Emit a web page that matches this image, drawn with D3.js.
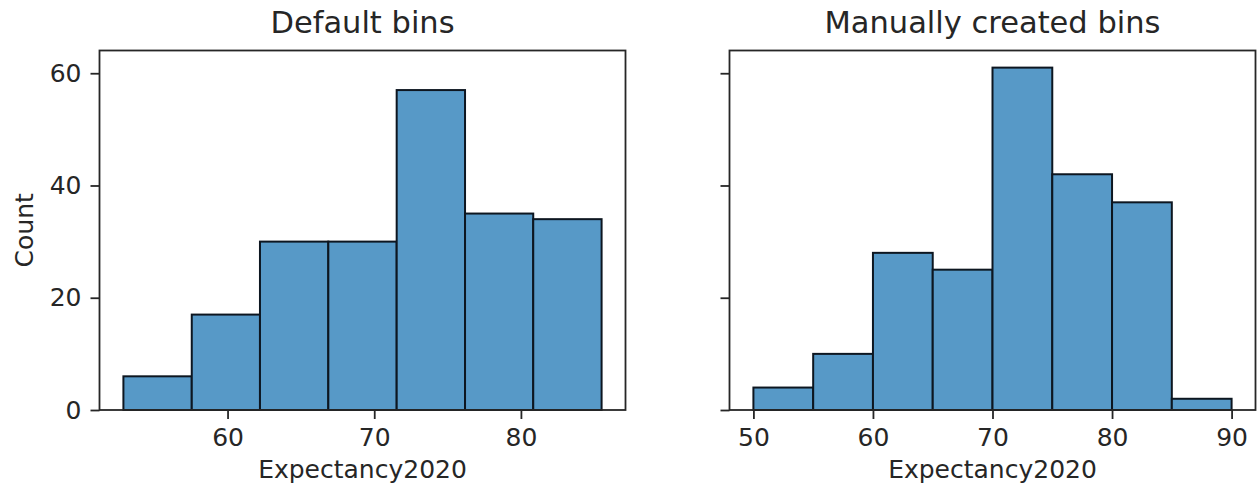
<!DOCTYPE html>
<html>
<head>
<meta charset="utf-8">
<script src="https://cdn.jsdelivr.net/npm/d3@7/dist/d3.min.js"></script>
<style>
  html, body { margin: 0; padding: 0; background: #fff; }
  svg { display: block; font-family: "DejaVu Sans", sans-serif; }
</style>
</head>
<body>
<svg id="chart" width="1257" height="490"></svg>
<script>
// Histogram of life expectancy in 2020, binned two ways.
const defaultEdges = [52.9, 57.56, 62.21, 66.87, 71.53, 76.19, 80.84, 85.5];
const defaultCounts = [6, 17, 30, 30, 57, 35, 34];
const defaultTicks = [60, 70, 80];

const manualEdges = [50, 55, 60, 65, 70, 75, 80, 85, 90];
const manualCounts = [4, 10, 28, 25, 61, 42, 37, 2];
const manualTicks = [50, 60, 70, 80, 90];

const countTicks = [0, 20, 40, 60];
const titles = ["Default bins", "Manually created bins"];
const xLabel = "Expectancy2020";
const yLabel = "Count";

const plotTop = 50.5, plotBottom = 410;
const panels = [
  { left: 99.5, right: 625.5, edges: defaultEdges, counts: defaultCounts, ticks: defaultTicks, title: titles[0], showY: true },
  { left: 729.5, right: 1255.5, edges: manualEdges, counts: manualCounts, ticks: manualTicks, title: titles[1], showY: false }
];

const svg = d3.select("#chart");
const barFill = "#5799c7";
const ink = "#262626";

// shared count axis, with 5% headroom above the tallest bar
const maxCount = d3.max(panels.flatMap(p => p.counts));
const y = d3.scaleLinear().domain([0, maxCount * 1.05]).range([plotBottom, plotTop]);

panels.forEach(p => {
  const lo = p.edges[0], hi = p.edges[p.edges.length - 1];
  const pad = (hi - lo) * 0.05;
  const x = d3.scaleLinear().domain([lo - pad, hi + pad]).range([p.left, p.right]);

  const g = svg.append("g");

  const bins = p.counts.map((c, i) => ({ x0: p.edges[i], x1: p.edges[i + 1], count: c }));
  g.selectAll("rect.bar").data(bins).join("rect")
    .attr("class", "bar")
    .attr("x", d => x(d.x0))
    .attr("width", d => x(d.x1) - x(d.x0))
    .attr("y", d => y(d.count))
    .attr("height", d => y(0) - y(d.count))
    .attr("fill", barFill)
    .attr("stroke", "#0d1620")
    .attr("stroke-width", 2);

  // frame
  g.append("rect")
    .attr("x", p.left).attr("y", plotTop)
    .attr("width", p.right - p.left).attr("height", plotBottom - plotTop)
    .attr("fill", "none").attr("stroke", ink).attr("stroke-width", 1.8);

  const xAxis = g.append("g")
    .attr("transform", `translate(0,${plotBottom})`)
    .call(d3.axisBottom(x).tickValues(p.ticks).tickSize(9).tickPadding(9).tickFormat(d3.format("d")));
  const yAxis = g.append("g")
    .attr("transform", `translate(${p.left},0)`)
    .call(d3.axisLeft(y).tickValues(countTicks).tickSize(9).tickPadding(9)
      .tickFormat(p.showY ? d3.format("d") : () => ""));

  [xAxis, yAxis].forEach(a => {
    a.select(".domain").remove();
    a.selectAll(".tick line").attr("stroke", ink).attr("stroke-width", 1.8);
    a.selectAll(".tick text").attr("fill", ink).style("font-size", "25px")
      .style("font-family", "DejaVu Sans, sans-serif");
  });

  g.append("text")
    .attr("x", (p.left + p.right) / 2).attr("y", 33)
    .attr("text-anchor", "middle").attr("fill", ink)
    .style("font-size", "30.5px")
    .text(p.title);

  g.append("text")
    .attr("x", (p.left + p.right) / 2).attr("y", 478)
    .attr("text-anchor", "middle").attr("fill", ink)
    .style("font-size", "25px")
    .text(xLabel);

  if (p.showY) {
    g.append("text")
      .attr("transform", `translate(33,${(plotTop + plotBottom) / 2}) rotate(-90)`)
      .attr("text-anchor", "middle").attr("fill", ink)
      .style("font-size", "25px")
      .text(yLabel);
  }
});
</script>
</body>
</html>
